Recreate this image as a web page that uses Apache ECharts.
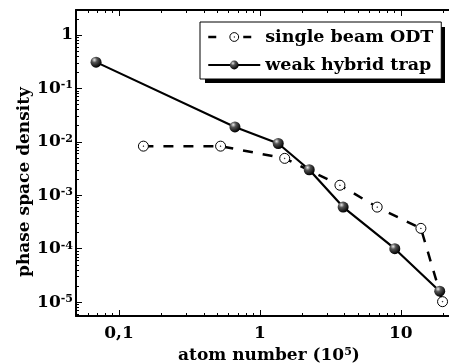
<!DOCTYPE html>
<html>
<head>
<meta charset="utf-8">
<script src="https://cdn.jsdelivr.net/npm/echarts@6/dist/echarts.min.js"></script>
<style>
  html, body { margin: 0; background: #fff; }
  #chart { width: 449px; height: 364px; }
</style>
</head>
<body>
<div id="chart"></div>
<script>
// (atoms in units of 1e5)
const odtAtoms = [0.149, 0.526, 1.5, 3.7, 6.8, 13.9, 19.8]
const odtPsd = [8.3e-3, 8.3e-3, 4.9e-3, 1.54e-3, 6.0e-4, 2.4e-4, 1.02e-5]
const hybridAtoms = [0.0687, 0.665, 1.35, 2.24, 3.9, 9.07, 18.9]
const hybridPsd = [0.31, 0.019, 9.3e-3, 3.0e-3, 6.0e-4, 1.0e-4, 1.6e-5]

const xMajor = [0.1, 1, 10]
const xMajorLabels = ['0,1', '1', '10']
const yMajor = [1e-5, 1e-4, 1e-3, 1e-2, 1e-1, 1]
const yMajorExp = ['-5', '-4', '-3', '-2', '-1', '']

const xRange = [0.0495, 22]
const yRange = [5.5e-6, 2.93]

const lg = Math.log10
const FONT = 'DejaVu Serif, serif'

function minorTicks(lo, hi) {
  const out = []
  for (let e = Math.floor(lg(lo)); e <= Math.ceil(lg(hi)); e++) {
    for (let k = 2; k <= 9; k++) {
      const v = k * Math.pow(10, e)
      if (v > lo && v < hi) out.push(lg(v))
    }
  }
  return out
}

function labelFor(list, labels, v) {
  const i = list.findIndex(d => Math.abs(lg(d) - v) < 1e-6)
  return i < 0 ? '' : labels[i]
}

const rich = {
  b: { fontFamily: FONT, fontWeight: 'bold', fontSize: 17, color: '#000' },
  s: { fontFamily: FONT, fontWeight: 'bold', fontSize: 11, color: '#000', verticalAlign: 'top' },
}

const lineBlack = { color: '#000', width: 2 }

function xAxisDef(gridIndex, position, major) {
  return {
    type: 'value',
    gridIndex,
    position,
    min: lg(xRange[0]),
    max: lg(xRange[1]),
    axisLine: { show: major, onZero: false, lineStyle: lineBlack },
    axisTick: {
      show: true,
      inside: true,
      length: major ? 6 : 3,
      customValues: major ? xMajor.map(lg) : minorTicks(xRange[0], xRange[1]),
      lineStyle: { color: '#000', width: 1 },
    },
    axisLabel: {
      show: major && position === 'bottom',
      customValues: xMajor.map(lg),
      margin: 9,
      formatter: v => '{b|' + labelFor(xMajor, xMajorLabels, v) + '}',
      rich,
    },
    splitLine: { show: false },
  }
}

function yAxisDef(gridIndex, major) {
  return {
    type: 'value',
    gridIndex,
    position: 'left',
    min: lg(yRange[0]),
    max: lg(yRange[1]),
    axisLine: { show: major, onZero: false, lineStyle: lineBlack },
    axisTick: {
      show: true,
      inside: true,
      length: major ? 6 : 3,
      customValues: major ? yMajor.map(lg) : minorTicks(yRange[0], yRange[1]),
      lineStyle: { color: '#000', width: 1 },
    },
    axisLabel: {
      show: major,
      customValues: yMajor.map(lg),
      margin: 3,
      formatter: v => {
        const exp = labelFor(yMajor, yMajorExp, v)
        return exp === '' ? '{b|1}' : '{b|10}{s|' + exp + '}'
      },
      rich,
    },
    splitLine: { show: false },
  }
}

const bottomMajor = xAxisDef(0, 'bottom', true)
bottomMajor.name = '{b|atom number (10}{s|5}{b|)}'
bottomMajor.nameLocation = 'middle'
bottomMajor.nameGap = 28
bottomMajor.nameTextStyle = {
  padding: [0, 0, 0, 13],
  rich: {
    b: { fontFamily: FONT, fontWeight: 'bold', fontSize: 17, color: '#000' },
    s: { fontFamily: FONT, fontWeight: 'bold', fontSize: 11, color: '#000', verticalAlign: 'top' },
  },
}

const sphere = {
  type: 'radial', x: 0.35, y: 0.3, r: 0.7,
  colorStops: [
    { offset: 0, color: '#e8e8e8' },
    { offset: 0.35, color: '#555' },
    { offset: 1, color: '#000' },
  ],
}
const openDot = 'path://M0,10a10,10 0 1,0 20,0a10,10 0 1,0 -20,0zM9.4,10a0.6,0.6 0 1,0 1.2,0a0.6,0.6 0 1,0 -1.2,0z'

const chart = echarts.init(document.getElementById('chart'), null, { renderer: 'canvas' })

chart.setOption({
  animation: false,
  backgroundColor: '#fff',
  grid: [
    { left: 76, top: 10, right: 0, bottom: 48, outerBoundsMode: 'none' },
    { left: 76, top: 10, right: 0, bottom: 48, outerBoundsMode: 'none' },
  ],
  xAxis: [
    bottomMajor,
    xAxisDef(0, 'top', true),
    xAxisDef(1, 'bottom', false),
    xAxisDef(1, 'top', false),
  ],
  yAxis: [
    yAxisDef(0, true),
    yAxisDef(1, false),
  ],
  graphic: [
    {
      // hard drop shadow of the legend box
      type: 'rect',
      z: 1,
      shape: { x: 205, y: 27, width: 240, height: 56 },
      style: { fill: '#000' },
    },
    {
      type: 'text',
      x: 25,
      y: 182,
      rotation: Math.PI / 2,
      style: {
        text: 'phase space density',
        fontFamily: FONT, fontWeight: 'bold', fontSize: 17, fill: '#000',
        align: 'center', verticalAlign: 'middle',
      },
    },
  ],
  legend: {
    data: [
      {
        name: 'single beam ODT',
        lineStyle: { type: [8, 27], width: 2.5 },
        itemStyle: { borderWidth: 1 },
      },
      { name: 'weak hybrid trap' },
    ],
    orient: 'vertical',
    left: 200,
    top: 22,
    padding: [6, 4, 5, 7],
    itemGap: 10,
    itemWidth: 52,
    itemHeight: 11,
    backgroundColor: '#fff',
    borderColor: '#000',
    borderWidth: 1,
    z: 5,
    formatter: n => '{t|' + n + '}',
    textStyle: {
      rich: {
        t: { fontFamily: FONT, fontWeight: 'bold', fontSize: 17.5, color: '#000', width: 172, lineHeight: 20 },
      },
    },
  },
  series: [
    {
      name: 'single beam ODT',
      type: 'line',
      xAxisIndex: 0,
      yAxisIndex: 0,
      data: odtAtoms.map((a, i) => [lg(a), lg(odtPsd[i])]),
      symbol: openDot,
      symbolSize: 10,
      lineStyle: { color: '#000', width: 2.5, type: [10, 10] },
      itemStyle: { color: '#fff', borderColor: '#000', borderWidth: 1 },
    },
    {
      name: 'weak hybrid trap',
      type: 'line',
      xAxisIndex: 0,
      yAxisIndex: 0,
      data: hybridAtoms.map((a, i) => [lg(a), lg(hybridPsd[i])]),
      symbol: 'circle',
      symbolSize: 11,
      lineStyle: { color: '#000', width: 2.2 },
      itemStyle: { color: sphere, borderWidth: 0 },
    },
  ],
})
</script>
</body>
</html>
